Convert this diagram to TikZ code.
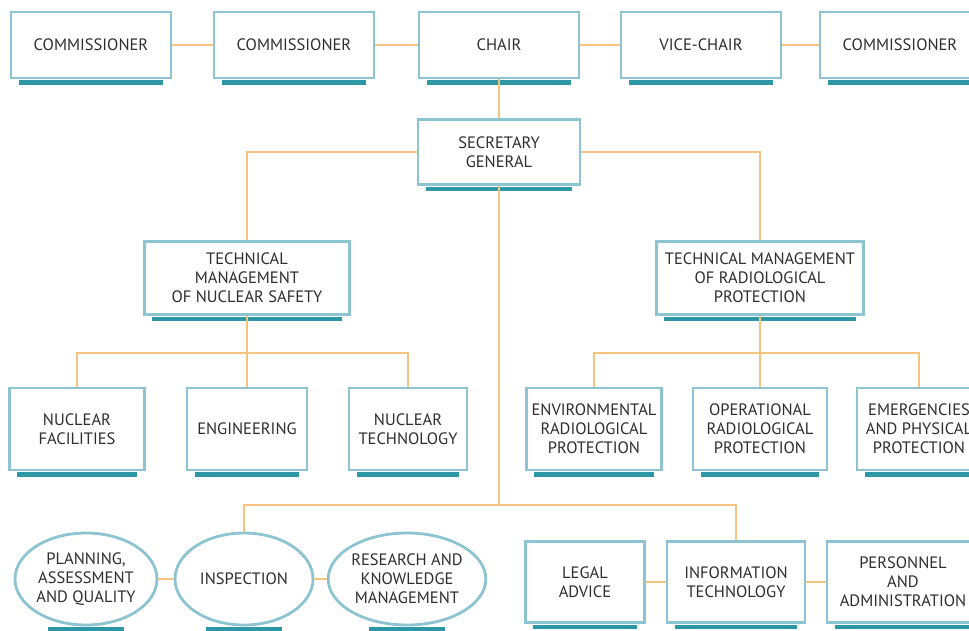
\documentclass[tikz,border=0pt]{standalone}
\usepackage{fontspec}
\setmainfont{PT Sans}
\usetikzlibrary{shapes.geometric}

\definecolor{boxline}{HTML}{8CC4D2}
\definecolor{boxbar}{HTML}{2E97A5}
\definecolor{link}{HTML}{F6C47E}
\definecolor{ink}{HTML}{2E2E2E}

\tikzset{
  unit/.style={draw=boxline, line width=2.8pt, fill=white, align=center,
    text=ink, font=\fontsize{16.5}{19}\selectfont, inner sep=1pt},
  oval/.style={unit, ellipse, inner sep=0pt},
  link/.style={draw=link, line width=2.8pt},
  bar/.style={fill=boxbar}
}

\begin{document}
\begin{tikzpicture}[x=1pt, y=-1pt]
  \useasboundingbox (0,0) rectangle (969,630);
  \clip (0,0) rectangle (969,630);

  % Board
  \foreach \name/\x/\txt in {c1/91/COMMISSIONER, c2/294/COMMISSIONER,
      chair/499/CHAIR, vice/701/VICE-CHAIR, c3/900/COMMISSIONER} {
    \node[unit, minimum width=160pt, minimum height=66pt] (\name) at (\x,45) {\txt};
  }

  % Secretary general & technical managements
  \node[unit, minimum width=162pt, minimum height=65pt] (sg) at (499,152) {SECRETARY\\GENERAL};
  \node[unit, minimum width=205pt, minimum height=73pt] (tmns) at (247,278) {TECHNICAL\\MANAGEMENT\\OF NUCLEAR SAFETY};
  \node[unit, minimum width=207pt, minimum height=73pt] (tmrp) at (760,278) {TECHNICAL MANAGEMENT\\OF RADIOLOGICAL\\PROTECTION};

  % Sub-directorates
  \foreach \name/\x/\w/\txt in {nf/77/135/{NUCLEAR\\FACILITIES}, eng/247/120/ENGINEERING,
      nt/408/118/{NUCLEAR\\TECHNOLOGY}, env/594/135/{ENVIRONMENTAL\\RADIOLOGICAL\\PROTECTION},
      opr/760/134/{OPERATIONAL\\RADIOLOGICAL\\PROTECTION},
      emg/919/124/{EMERGENCIES\\AND PHYSICAL\\PROTECTION}} {
    \node[unit, inner sep=0pt, minimum width=\w pt, minimum height=82pt] (\name) at (\x,429) {\txt};
  }

  % Bottom row
  \node[oval, minimum width=142pt, minimum height=92pt] (plan) at (86,579) {PLANNING,\\ASSESSMENT\\AND QUALITY};
  \node[oval, minimum width=138pt, minimum height=92pt] (insp) at (244,579) {INSPECTION};
  \node[oval, minimum width=153pt, minimum height=92pt] (res) at (407,579) {RESEARCH AND\\KNOWLEDGE\\MANAGEMENT};
  \node[unit, minimum width=119pt, minimum height=81pt] (legal) at (585,582) {LEGAL\\ADVICE};
  \node[unit, minimum width=138pt, minimum height=81pt] (info) at (736,582) {INFORMATION\\TECHNOLOGY};
  \node[unit, inner sep=0pt, minimum width=152pt, minimum height=81pt] (pers) at (903,582) {PERSONNEL\\AND\\ADMINISTRATION};

  % Shadow bars
  \foreach \n in {c1,c2,chair,vice,c3,sg,tmns,tmrp,nf,eng,nt,env,opr,emg,legal,info,pers} {
    \fill[bar] ([xshift=9pt,yshift=-1pt]\n.south west) rectangle ([xshift=-9pt,yshift=-5.5pt]\n.south east);
  }
  \foreach \n in {plan,insp,res} {
    \fill[bar] ([xshift=-38pt,yshift=-1pt]\n.south) rectangle ([xshift=38pt,yshift=-8pt]\n.south);
  }

  % Connectors
  \coordinate (hub) at (499,505);
  \coordinate (jns) at (247,353);
  \coordinate (jrp) at (760,353);
  \draw[link] (c1) -- (c2);
  \draw[link] (c2) -- (chair);
  \draw[link] (chair) -- (vice);
  \draw[link] (vice) -- (c3);
  \draw[link] (chair) -- (sg);
  \draw[link] (sg.west) -| (tmns.north);
  \draw[link] (sg.east) -| (tmrp.north);
  \draw[link] (sg.south) -- (hub);
  \draw[link] (insp.north) |- (hub) -| (info.north);
  \draw[link] (tmns) -- (eng);
  \draw[link] (nf.north) |- (jns) -| (nt.north);
  \draw[link] (tmrp) -- (opr);
  \draw[link] (env.north) |- (jrp) -| (emg.north);
  \draw[link] (plan) -- (insp);
  \draw[link] (insp) -- (res);
  \draw[link] (legal) -- (info);
  \draw[link] (info) -- (pers);
\end{tikzpicture}
\end{document}
